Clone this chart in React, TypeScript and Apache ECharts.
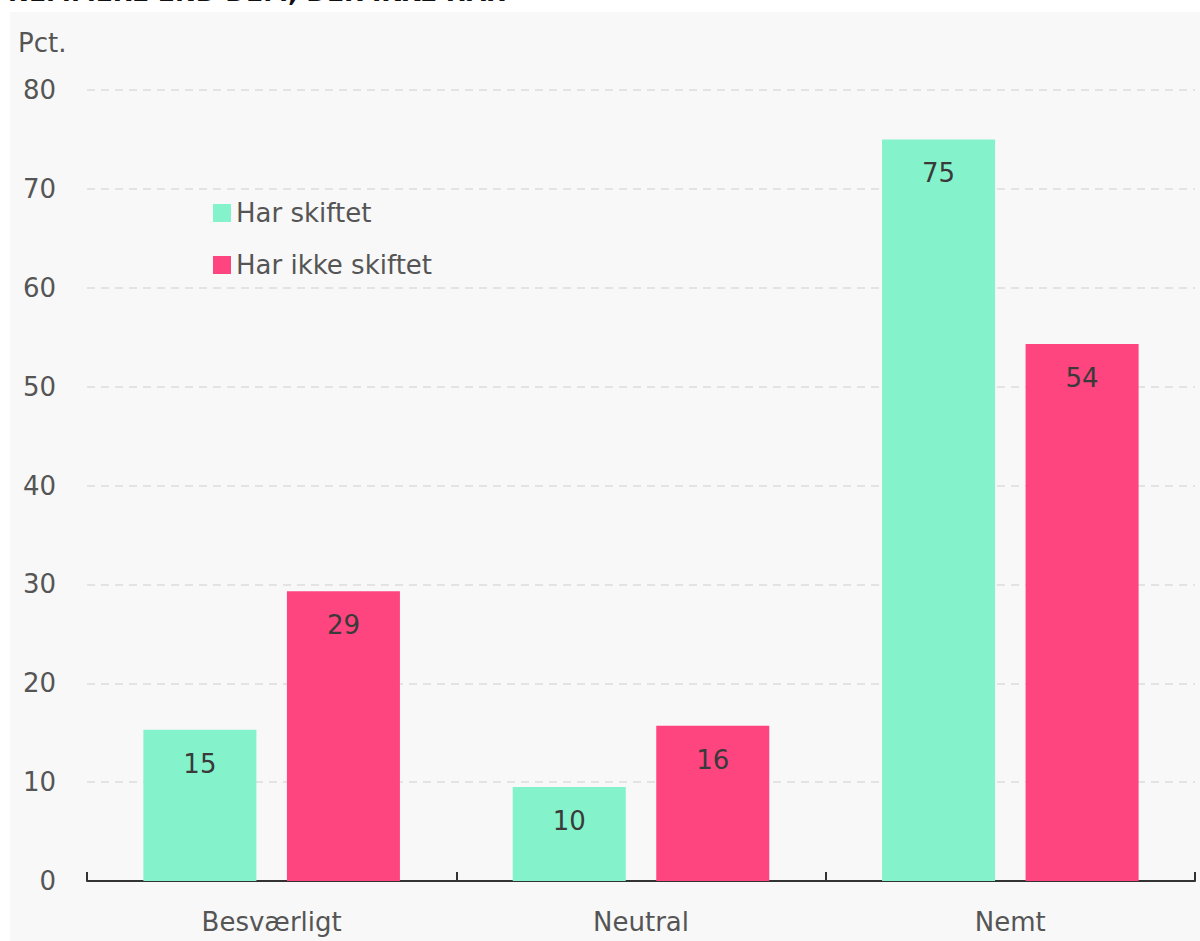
import React, { useEffect, useRef } from "react";
import * as echarts from "echarts";

const categories = ["Besværligt", "Neutral", "Nemt"];
const seriesNames = ["Har skiftet", "Har ikke skiftet"];
const harSkiftet = [15.3, 9.5, 75.0];
const harIkkeSkiftet = [29.3, 15.7, 54.3];
const yTicks = [0, 10, 20, 30, 40, 50, 60, 70, 80];
const titleText = "NEMMERE END DEM, DER IKKE HAR";
const unitText = "Pct.";

const GREEN = "#84F2CA";
const PINK = "#FF4580";
const FONT = "'DejaVu Sans', 'Noto Sans', sans-serif";
const TEXT = "#555555";
const FS = 26;

export default function App() {
  const ref = useRef<HTMLDivElement>(null);
  useEffect(() => {
    if (!ref.current) return;
    const chart = echarts.init(ref.current, undefined, { renderer: "svg" });
    const labelCfg = {
      show: true,
      position: "insideTop",
      distance: 21,
      fontSize: FS,
      color: "#3a3a3a",
      fontFamily: FONT,
      formatter: (p: any) => String(Math.round(p.value)),
    };
    chart.setOption({
      animation: false,
      backgroundColor: "transparent",
      textStyle: { fontFamily: FONT },
      graphic: [
        {
          type: "text",
          left: 8,
          top: -20,
          style: {
            text: titleText,
            font: `bold 25px ${FONT}`,
            fill: "#111",
          },
        },
        {
          type: "text",
          left: 18,
          top: 30,
          style: { text: unitText, font: `${FS}px ${FONT}`, fill: TEXT },
        },
      ],
      legend: {
        orient: "vertical",
        left: 208,
        top: 195,
        itemWidth: 18,
        itemHeight: 18,
        itemGap: 26,
        icon: "rect",
        textStyle: { fontSize: FS, color: TEXT, fontFamily: FONT },
        data: seriesNames,
      },
      grid: { left: 87, right: 5, top: 90, bottom: 60, containLabel: false },
      xAxis: {
        type: "category",
        data: categories,
        axisLine: { show: true, lineStyle: { color: "#333", width: 2 } },
        axisTick: { show: true, inside: true, length: 9, lineStyle: { color: "#333", width: 2 } },
        axisLabel: { fontSize: FS, color: TEXT, margin: 28, fontFamily: FONT },
      },
      yAxis: {
        type: "value",
        min: yTicks[0],
        max: yTicks[yTicks.length - 1],
        interval: 10,
        axisLine: { show: false },
        axisTick: { show: false },
        axisLabel: { fontSize: FS, color: TEXT, margin: 31, fontFamily: FONT, padding: [2, 0, 0, 0] },
        splitLine: {
          show: true,
          lineStyle: { color: "#dcdcdc", type: [8, 6], width: 1.5 },
        },
      },
      series: [
        {
          name: seriesNames[0],
          type: "bar",
          data: harSkiftet,
          barWidth: "30.6%",
          barGap: "27%",
          itemStyle: { color: GREEN },
          label: labelCfg,
        },
        {
          name: seriesNames[1],
          type: "bar",
          data: harIkkeSkiftet,
          barWidth: "30.6%",
          itemStyle: { color: PINK },
          label: labelCfg,
        },
      ],
    });
    return () => chart.dispose();
  }, []);
  return (
    <div style={{ position: "fixed", left: 0, top: 0, width: 1200, height: 941, background: "#ffffff", overflow: "hidden" }}>
      <div style={{ position: "absolute", left: 10, top: 12, width: 1190, height: 929, background: "#f8f8f8" }} />
      <div ref={ref} style={{ position: "absolute", left: 0, top: 0, width: 1200, height: 941 }} />
    </div>
  );
}
